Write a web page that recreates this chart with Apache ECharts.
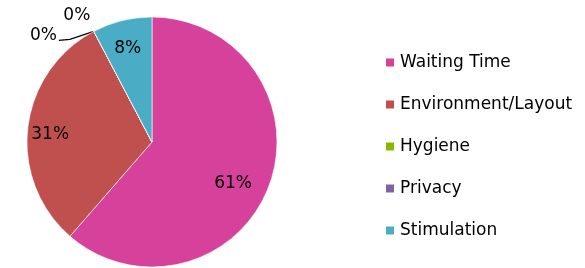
<!DOCTYPE html>
<html>
<head>
<meta charset="utf-8">
<script src="https://cdn.jsdelivr.net/npm/echarts@6/dist/echarts.min.js"></script>
<style>
  html, body { margin: 0; padding: 0; background: #fff; }
  #main { width: 585px; height: 268px; }
</style>
</head>
<body>
<div id="main"></div>
<script>
// categories and values
var categories = ['Waiting Time', 'Environment/Layout', 'Hygiene', 'Privacy', 'Stimulation']
var values = [61.4, 30.9, 0, 0, 7.7]
var labels = ['61%', '31%', '0%', '0%', '8%']
var colors = ['#D5419B', '#C0504D', '#8AB800', '#8064A2', '#4BACC6']

var font = 'DejaVu Sans'
var myChart = echarts.init(document.getElementById('main'))

// base pie, draws the slices and the outside 0% labels
var baseData = categories.map(function (name, i) {
  var item = {
    name: name,
    value: values[i],
    itemStyle: { color: colors[i] },
    label: { show: false },
    labelLine: { show: false }
  }
  if (values[i] === 0) {
    item.label = { show: true, position: 'outside', formatter: labels[i] }
    item.labelLine = {
      show: true,
      smooth: false,
      length: 6,
      length2: 12,
      lineStyle: { color: '#000', width: 1.2, opacity: i === 2 ? 1 : 0 }
    }
  }
  return item
})

// transparent ring on top only to push inside labels outward
var labelData = categories.map(function (name, i) {
  var item = {
    name: name,
    value: values[i],
    itemStyle: { color: 'rgba(0,0,0,0)' },
    label: { show: values[i] > 0, formatter: labels[i] }
  }
  // excel places these a little off the mid angle
  if (i === 0) item.label.offset = [-14, 6]
  if (i === 1) item.label.offset = [-1, 4]
  if (i === 4) item.label.offset = [0, 5]
  return item
})

var option = {
  animation: false,
  legend: {
    orient: 'vertical',
    left: 379,
    top: 49,
    icon: 'rect',
    itemWidth: 10,
    itemHeight: 10,
    itemGap: 25,
    data: categories,
    textStyle: { fontFamily: font, fontSize: 17, color: '#000' }
  },
  series: [
    {
      type: 'pie',
      center: [152, 142],
      radius: 125,
      startAngle: 90,
      clockwise: true,
      avoidLabelOverlap: false,
      silent: true,
      itemStyle: { borderColor: '#fff', borderWidth: 0.6 },
      label: { fontFamily: font, fontSize: 17, color: '#000' },
      labelLayout: function (params) {
        // two zero slices share one spot on the rim, spread their labels from it
        var pts = params.labelLinePoints
        if (!pts) return {}
        var e = pts[0]
        if (params.dataIndex === 2) {
          return {
            x: e[0] - 37,
            y: e[1] + 4,
            align: 'right',
            verticalAlign: 'middle',
            labelLinePoints: [[e[0], e[1]], [e[0] - 24, e[1] + 8], [e[0] - 35, e[1] + 9]]
          }
        }
        if (params.dataIndex === 3) {
          return { x: e[0] - 17, y: e[1] - 16, align: 'center', verticalAlign: 'middle' }
        }
        return {}
      },
      data: baseData
    },
    {
      type: 'pie',
      center: [152, 142],
      radius: [72, 125],
      startAngle: 90,
      clockwise: true,
      silent: true,
      legendHoverLink: false,
      label: { position: 'inside', fontFamily: font, fontSize: 17, color: '#000' },
      labelLine: { show: false },
      data: labelData
    }
  ]
}
option && myChart.setOption(option, true)
</script>
</body>
</html>
